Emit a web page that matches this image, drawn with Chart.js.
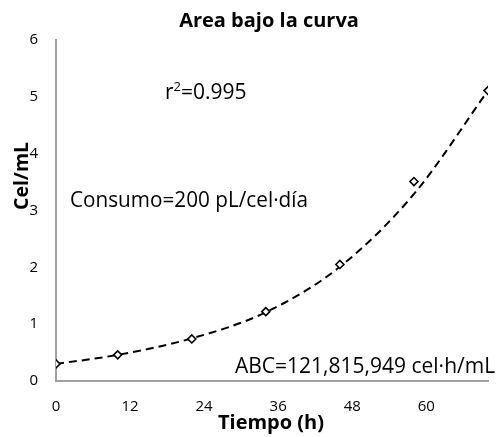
<!DOCTYPE html>
<html>
<head>
<meta charset="utf-8">
<script src="https://cdn.jsdelivr.net/npm/chart.js@4"></script>
<style>
  html, body { margin: 0; padding: 0; background: #fff; }
  #wrap { width: 501px; height: 437px; }
</style>
</head>
<body>
<div id="wrap"><canvas id="c" width="501" height="437"></canvas></div>
<script>
// ---- data ----
const timeHours = [0, 10, 22, 34, 46, 58, 70];
const cellsPerML = [0.30, 0.46, 0.74, 1.22, 2.05, 3.51, 5.11];
// dashed trend line
const trendHours = [0, 10, 22, 34, 46, 58, 70];
const trendValues = [0.30, 0.46, 0.75, 1.21, 2.01, 3.29, 5.11];
const xTickLabels = [0, 12, 24, 36, 48, 60];
const yTickLabels = [0, 1, 2, 3, 4, 5, 6];

const titleText = 'Area bajo la curva';
const xTitle = 'Tiempo (h)';
const yTitle = 'Cel/mL';
const r2Text = '0.995';
const consumoText = 'Consumo=200 pL/cel·día';
const abcText = 'ABC=121,815,949 cel·h/mL';

const FONT = '"Open Sans", "Liberation Sans", sans-serif';

const textPlugin = {
  id: 'texts',
  afterDraw(chart) {
    const ctx = chart.ctx;
    ctx.save();
    ctx.fillStyle = '#000';
    // Title
    ctx.font = 'bold 20px ' + FONT;
    ctx.textAlign = 'center';
    ctx.textBaseline = 'alphabetic';
    ctx.fillText(titleText, 269, 27, 180);
    // x title
    ctx.fillText(xTitle, 271, 429, 108);
    // y title
    ctx.save();
    ctx.translate(28, 176);
    ctx.rotate(-Math.PI / 2);
    ctx.fillText(yTitle, 0, 0, 68);
    ctx.restore();
    // annotations
    ctx.textAlign = 'left';
    ctx.font = '21px ' + FONT;
    let x = 165;
    ctx.fillText('r', x, 99);
    x += ctx.measureText('r').width;
    ctx.font = '13px ' + FONT;
    ctx.fillText('2', x, 91);
    x += ctx.measureText('2').width;
    ctx.font = '21px ' + FONT;
    ctx.fillText('=' + r2Text, x, 99);
    ctx.fillText(consumoText, 70, 207, 238);
    ctx.fillText(abcText, 235, 373, 263);
    ctx.restore();
  }
};

new Chart(document.getElementById('c'), {
  type: 'scatter',
  data: {
    datasets: [
      {
        label: 'Datos',
        data: timeHours.map((t, i) => ({ x: t, y: cellsPerML[i] })),
        pointStyle: 'rectRot',
        pointRadius: 4,
        pointBackgroundColor: '#fff',
        pointBorderColor: '#000',
        pointBorderWidth: 1.6,
        showLine: false,
        order: 0
      },
      {
        label: 'Tendencia',
        data: trendHours.map((t, i) => ({ x: t, y: trendValues[i] })),
        showLine: true,
        borderColor: '#000',
        borderWidth: 2,
        borderDash: [8, 5],
        pointRadius: 0,
        cubicInterpolationMode: 'monotone',
        fill: false,
        order: 1
      }
    ]
  },
  options: {
    responsive: false,
    animation: false,
    layout: { padding: { top: 40, right: 13, left: 0, bottom: 0 } },
    plugins: {
      legend: { display: false },
      title: { display: false },
      tooltip: { enabled: false }
    },
    scales: {
      x: {
        type: 'linear',
        min: 0,
        max: 70,
        grid: { display: false, drawTicks: false },
        border: { display: true, color: '#a0a0a0', width: 2 },
        ticks: {
          stepSize: 12,
          padding: 17,
          color: '#000',
          font: { family: FONT, size: 15 },
          maxRotation: 0
        },
        afterBuildTicks(scale) {
          scale.ticks = xTickLabels.map(v => ({ value: v }));
        },
        afterFit(scale) { scale.height = 56; }
      },
      y: {
        type: 'linear',
        min: 0,
        max: 6,
        grid: { display: false, drawTicks: false },
        border: { display: true, color: '#a0a0a0', width: 2 },
        ticks: {
          stepSize: 1,
          padding: 18,
          color: '#000',
          font: { family: FONT, size: 15 }
        },
        afterBuildTicks(scale) {
          scale.ticks = yTickLabels.map(v => ({ value: v }));
        },
        afterFit(scale) { scale.width = 56; }
      }
    }
  },
  plugins: [textPlugin]
});
</script>
</body>
</html>
